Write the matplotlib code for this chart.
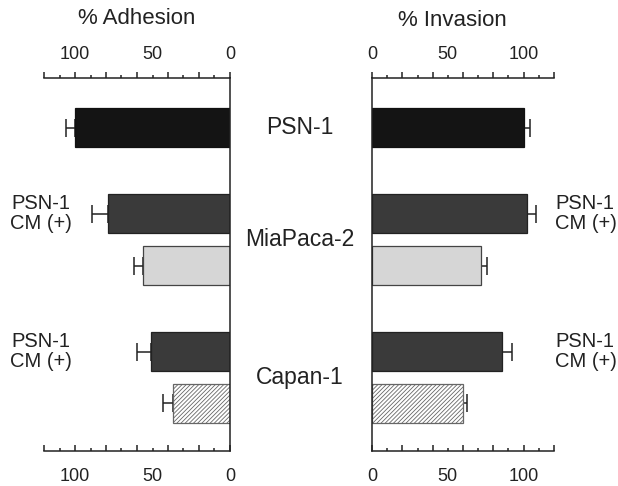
import numpy as np
import matplotlib
matplotlib.use('Agg')
import matplotlib.pyplot as plt
from matplotlib.ticker import MultipleLocator, NullFormatter
from matplotlib import transforms

plt.rcParams['font.family'] = ['Liberation Sans', 'DejaVu Sans']
plt.rcParams['hatch.linewidth'] = 0.6

# rows, top to bottom
rows = ['PSN-1', 'MiaPaca-2 CM(+)', 'MiaPaca-2', 'Capan-1 CM(+)', 'Capan-1']
adhesion = [100, 79, 56, 51, 37]
adhesion_err = [6, 10, 6, 9, 6]
invasion = [100, 102, 72, 86, 60]
invasion_err = [4, 6, 4, 6, 2.5]

groups = ['PSN-1', 'MiaPaca-2', 'Capan-1']
group_rows = [[0], [1, 2], [3, 4]]
cm_rows = [1, 3]
cm_label = 'PSN-1\nCM (+)'

colors = ['#141414', '#3a3a3a', '#d6d6d6', '#3a3a3a', 'white']
hatches = [None, None, None, None, '////////']
edges = ['#111111', '#222222', '#444444', '#222222', '#666666']

# vertical layout (gaps between rows)
gaps = [1.28, 2.2, 1.33, 2.2, 1.33]
ypos = np.cumsum(gaps)
ytop = 9.56

fig = plt.figure(figsize=(6.18, 4.86), dpi=100)
axL = fig.add_axes([44/618, 35/486, 186/618, 373/486])
axR = fig.add_axes([372/618, 35/486, 182/618, 373/486])


def ticks(axis, direction):
    axis.set_major_locator(MultipleLocator(20))
    axis.set_minor_locator(MultipleLocator(10))
    axis.set_major_formatter(NullFormatter())
    axis.set_tick_params(which='major', length=4.5, width=1.1, direction=direction,
                         color='#222222')
    axis.set_tick_params(which='minor', length=2.2, width=1.1, direction=direction,
                         color='#222222')


def panel(ax, vals, errs, side):
    for i in range(len(rows)):
        ax.barh(ypos[i], vals[i], height=1.0, color=colors[i], edgecolor=edges[i],
                hatch=hatches[i], linewidth=0.9, zorder=2)
    ax.errorbar(vals, ypos, xerr=[np.zeros(len(vals)), errs], fmt='none',
                ecolor='#222222', elinewidth=1.1, capsize=6.5, capthick=1.1, zorder=1)
    ax.set_xlim(0, 120)
    ax.set_ylim(ytop, 0)
    ax.set_yticks([])
    for s in ['left', 'right']:
        ax.spines[s].set_visible(False)
    ax.spines[side].set_visible(True)
    for s in ['top', 'bottom', side]:
        ax.spines[s].set_linewidth(1.1)
        ax.spines[s].set_color('#222222')
    # top ticks point outward (up)
    ax.tick_params(axis='x', which='both', top=True, bottom=False,
                   labeltop=False, labelbottom=False)
    ticks(ax.xaxis, 'out')
    # bottom ticks point inward (up)
    bt = ax.secondary_xaxis('bottom')
    ticks(bt.xaxis, 'in')
    bt.spines['bottom'].set_visible(False)
    for loc, pad in [('top', 11), ('bottom', 12)]:
        sec = ax.secondary_xaxis(loc)
        sec.set_xticks([0, 50, 100])
        sec.tick_params(length=0, pad=pad, labelsize=13, colors='#222222')
        sec.spines[loc].set_visible(False)


panel(axL, adhesion, adhesion_err, 'right')
axL.invert_xaxis()
panel(axR, invasion, invasion_err, 'left')

fig.text(137/618, 1 - 18/486, '% Adhesion', ha='center', va='center',
         fontsize=16, color='#222222')
fig.text(452/618, 1 - 20/486, '% Invasion', ha='center', va='center',
         fontsize=16, color='#222222')

tr = transforms.blended_transform_factory(fig.transFigure, axL.transData)
for g, r in zip(groups, group_rows):
    fig.text(300/618, np.mean(ypos[r]), g, transform=tr, ha='center',
             va='center', fontsize=16.5, color='#222222')
for r in cm_rows:
    fig.text(41/618, ypos[r], cm_label, transform=tr, ha='center', va='center',
             fontsize=14.5, linespacing=1.05, color='#222222')
    fig.text(555/618, ypos[r], cm_label, transform=tr, ha='left', va='center',
             fontsize=14.5, linespacing=1.05, color='#222222')

fig.savefig('out.png', dpi=100)
